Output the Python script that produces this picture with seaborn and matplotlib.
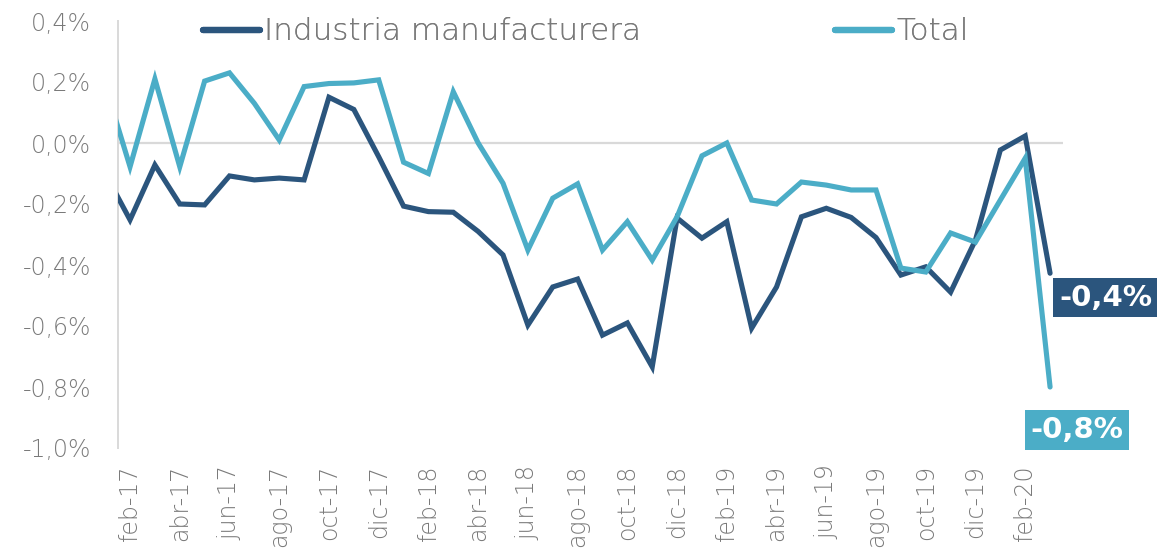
import numpy as np
import pandas as pd
import seaborn as sns
import matplotlib.pyplot as plt
from matplotlib.lines import Line2D

# ---------------- data ----------------
months = ["ene-17", "feb-17", "mar-17", "abr-17", "may-17", "jun-17", "jul-17", "ago-17",
          "sep-17", "oct-17", "nov-17", "dic-17",
          "ene-18", "feb-18", "mar-18", "abr-18", "may-18", "jun-18", "jul-18", "ago-18",
          "sep-18", "oct-18", "nov-18", "dic-18",
          "ene-19", "feb-19", "mar-19", "abr-19", "may-19", "jun-19", "jul-19", "ago-19",
          "sep-19", "oct-19", "nov-19", "dic-19",
          "ene-20", "feb-20", "mar-20"]

industria = [-0.10, -0.252, -0.072, -0.200, -0.203, -0.108, -0.121, -0.115,
             -0.121, 0.150, 0.110, -0.045,
             -0.207, -0.225, -0.227, -0.290, -0.367, -0.597, -0.472, -0.446,
             -0.630, -0.590, -0.734, -0.246,
             -0.312, -0.258, -0.607, -0.472, -0.242, -0.214, -0.244, -0.310,
             -0.433, -0.406, -0.489, -0.318,
             -0.023, 0.023, -0.427]

total = [0.19, -0.078, 0.210, -0.078, 0.203, 0.230, 0.130, 0.010,
         0.185, 0.195, 0.197, 0.207,
         -0.063, -0.100, 0.168, 0.000, -0.132, -0.351, -0.181, -0.134,
         -0.351, -0.258, -0.384, -0.242,
         -0.042, 0.000, -0.187, -0.200, -0.128, -0.138, -0.154, -0.154,
         -0.410, -0.423, -0.295, -0.325,
         -0.187, -0.050, -0.800]

series_names = ["Industria manufacturera", "Total"]
yticks = [-1.0, -0.8, -0.6, -0.4, -0.2, 0.0, 0.2, 0.4]

# ---------------- style ----------------
DARK = "#2B557D"
LIGHT = "#4BADC7"
GRAY_TXT = "#7A7A7A"
GRID = "#D9D9D9"

sns.set_theme(style="white")
plt.rcParams["font.family"] = ["DejaVu Sans"]

W, H = 1157, 560
fig = plt.figure(figsize=(W / 100, H / 100), dpi=100)
ax = fig.add_axes([117.6 / W, 1 - 448 / H, (1062.5 - 117.6) / W, (448 - 21) / H])

idx = np.arange(len(months))
df = pd.DataFrame({
    "idx": np.concatenate([idx, idx]),
    "valor": industria + total,
    "serie": [series_names[0]] * len(months) + [series_names[1]] * len(months),
})

sns.lineplot(data=df, x="idx", y="valor", hue="serie", hue_order=series_names,
             palette=[DARK, LIGHT], linewidth=3.7, legend=False, sort=False, ax=ax)
for ln in ax.lines:
    ln.set_solid_capstyle("round")
    ln.set_solid_joinstyle("miter")
    ln.set_zorder(3)

ax.axhline(0, color=GRID, lw=1.6, zorder=1)

ax.set_xlim(idx[1] - 0.5, idx[-1] + 0.5)
ax.set_ylim(-1.0, 0.4)

ax.set_yticks(yticks)
ax.set_yticklabels([f"{v:.1f}%".replace(".", ",") for v in yticks])
tick_idx = idx[1::2]
ax.set_xticks(tick_idx)
ax.set_xticklabels([months[i] for i in tick_idx], rotation=90, va="top", ha="center")

ax.tick_params(axis="y", length=0, pad=19, labelsize=17, labelcolor=GRAY_TXT)
ax.tick_params(axis="x", length=0, pad=12, labelsize=17, labelcolor=GRAY_TXT)
for lab in ax.get_xticklabels() + ax.get_yticklabels():
    lab.set_fontweight("light")

for s in ["top", "right", "bottom"]:
    ax.spines[s].set_visible(False)
ax.spines["left"].set_color(GRID)
ax.spines["left"].set_linewidth(1.4)
ax.set_xlabel("")
ax.set_ylabel("")

# ---------------- legends ----------------
for name, col, xpos in [(series_names[0], DARK, 203), (series_names[1], LIGHT, 835)]:
    h = Line2D([], [], color=col, lw=4.5, solid_capstyle="round")
    leg = fig.legend([h], [name], loc="center left", bbox_to_anchor=(xpos / W, 1 - 32 / H),
                     frameon=False, handlelength=1.85, handletextpad=0.12,
                     borderpad=0, borderaxespad=0, labelcolor=GRAY_TXT,
                     prop={"weight": "light", "size": 22.3})
    fig.add_artist(leg)

# ---------------- end labels ----------------
ax.annotate("-0,4%", xy=(idx[-1], industria[-1]), xytext=(40, -17.5),
            textcoords="offset points", ha="center", va="center", color="white",
            fontsize=21, fontweight="bold", annotation_clip=False, zorder=5,
            bbox=dict(boxstyle="square,pad=0.2", fc=DARK, ec="none"))
ax.annotate("-0,8%", xy=(idx[-1], total[-1]), xytext=(19.5, -31),
            textcoords="offset points", ha="center", va="center", color="white",
            fontsize=21, fontweight="bold", annotation_clip=False, zorder=5,
            bbox=dict(boxstyle="square,pad=0.2", fc=LIGHT, ec="none"))

fig.savefig("out.png", dpi=100)
